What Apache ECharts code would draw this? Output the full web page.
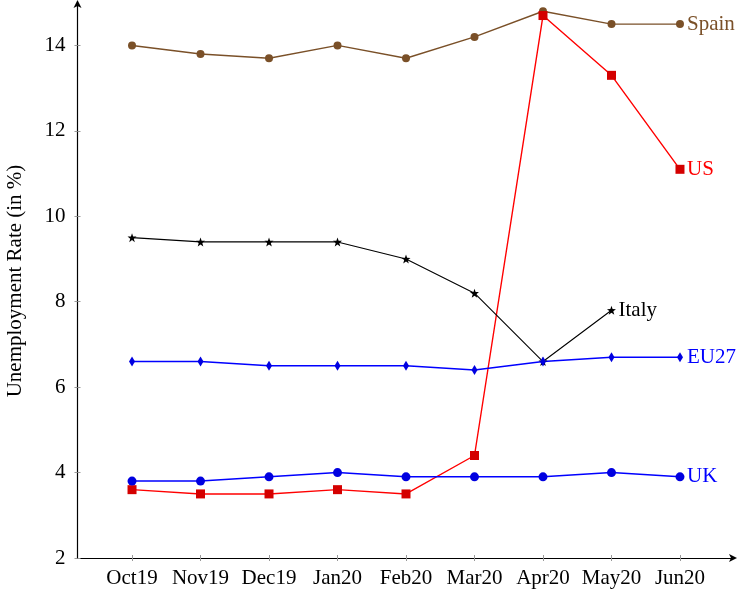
<!DOCTYPE html>
<html>
<head>
<meta charset="utf-8">
<script src="https://cdn.jsdelivr.net/npm/echarts@6.0.0/dist/echarts.min.js"></script>
<style>
  html, body { margin: 0; padding: 0; background: #fff; }
  #chartdiv { width: 742px; height: 593px; }
</style>
</head>
<body>
<div id="chartdiv"></div>
<script>
// months on the x axis (positions 0..8)
var months = ['Oct19', 'Nov19', 'Dec19', 'Jan20', 'Feb20', 'Mar20', 'Apr20', 'May20', 'Jun20'];
var yTicks = [2, 4, 6, 8, 10, 12, 14];

// unemployment rate in %
var spain = [14.0, 13.8, 13.7, 14.0, 13.7, 14.2, 14.8, 14.5, 14.5];
var us    = [3.6, 3.5, 3.5, 3.6, 3.5, 4.4, 14.7, 13.3, 11.1];
var italy = [9.5, 9.4, 9.4, 9.4, 9.0, 8.2, 6.6, 7.8];
var eu27  = [6.6, 6.6, 6.5, 6.5, 6.5, 6.4, 6.6, 6.7, 6.7];
var uk    = [3.8, 3.8, 3.9, 4.0, 3.9, 3.9, 3.9, 4.0, 3.9];

var FONT = 'Liberation Serif';
var FSIZE = 21;
var STAR = 'path://M0,-10 L2.35,-3.24 L9.51,-3.09 L3.8,1.24 L5.88,8.09 L0,4 L-5.88,8.09 L-3.8,1.24 L-9.51,-3.09 L-2.35,-3.24 Z';

function pairs(arr) {
    return arr.map(function(v, i) { return [i, v]; });
}

function makeSeries(name, data, color, markColor, symbol, size, width) {
    return {
        name: name,
        type: 'line',
        data: pairs(data),
        xAxisIndex: 0,
        yAxisIndex: 0,
        symbol: symbol,
        symbolSize: size,
        showAllSymbol: true,
        color: color,
        lineStyle: { width: width, color: color },
        itemStyle: { color: markColor, borderWidth: 0 },
        endLabel: {
            show: true,
            formatter: name,
            color: color,
            fontFamily: FONT,
            fontSize: FSIZE,
            distance: 7
        },
        animation: false,
        z: 3
    };
}

var series = [
    makeSeries('Spain', spain, '#7a5028', '#7a5028', 'circle', 8, 1.4),
    makeSeries('US', us, '#ff0000', '#d40000', 'rect', 9, 1.4),
    makeSeries('Italy', italy, '#000000', '#000000', STAR, 9, 1.1),
    makeSeries('EU27', eu27, '#0000ff', '#0000e0', 'diamond', [6, 10], 1.5),
    makeSeries('UK', uk, '#0000ff', '#0000e0', 'circle', 9, 1.5)
];

var xIdx = months.map(function(m, i) { return i; });

var xBase = {
    type: 'value',
    min: -0.796,
    max: 8.774,
    splitLine: { show: false }
};
var yBase = {
    type: 'value',
    min: 2,
    max: 14.97,
    splitLine: { show: false }
};

var options = {
    animation: false,
    grid: {
        left: 77.5,
        right: 9,
        top: 4,
        bottom: 35,
        containLabel: false,
        outerBoundsMode: 'none'
    },
    xAxis: [
        Object.assign({}, xBase, {
            axisLine: {
                onZero: false,
                lineStyle: { color: '#000', width: 1.2 },
                symbol: ['none', 'arrow'],
                symbolSize: [6, 8],
                symbolOffset: [0, 4]
            },
            axisTick: {
                customValues: xIdx,
                length: 3,
                lineStyle: { color: '#999' }
            },
            axisLabel: {
                customValues: xIdx,
                formatter: function(v) { return months[Math.round(v)]; },
                fontFamily: FONT,
                fontSize: FSIZE,
                color: '#000',
                margin: 10
            }
        }),
        Object.assign({}, xBase, {
            position: 'bottom',
            axisLine: { show: false, onZero: false },
            axisTick: {
                customValues: xIdx,
                inside: true,
                length: 3,
                lineStyle: { color: '#999' }
            },
            axisLabel: { show: false }
        })
    ],
    yAxis: [
        Object.assign({}, yBase, {
            name: 'Unemployment Rate (in %)',
            nameLocation: 'middle',
            nameGap: 52,
            nameTextStyle: { fontFamily: FONT, fontSize: FSIZE, color: '#000' },
            axisLine: {
                onZero: false,
                lineStyle: { color: '#000', width: 1.2 },
                symbol: ['none', 'arrow'],
                symbolSize: [6, 8],
                symbolOffset: [0, 4]
            },
            axisTick: {
                customValues: yTicks,
                length: 3,
                lineStyle: { color: '#999' }
            },
            axisLabel: {
                customValues: yTicks,
                fontFamily: FONT,
                fontSize: FSIZE,
                color: '#000',
                margin: 12
            }
        }),
        Object.assign({}, yBase, {
            position: 'left',
            axisLine: { show: false, onZero: false },
            axisTick: {
                customValues: yTicks,
                inside: true,
                length: 3,
                lineStyle: { color: '#999' }
            },
            axisLabel: { show: false }
        })
    ],
    series: series
};

var chartDom = document.getElementById('chartdiv');
var plot = echarts.init(chartDom);
options && plot.setOption(options);
</script>
</body>
</html>
